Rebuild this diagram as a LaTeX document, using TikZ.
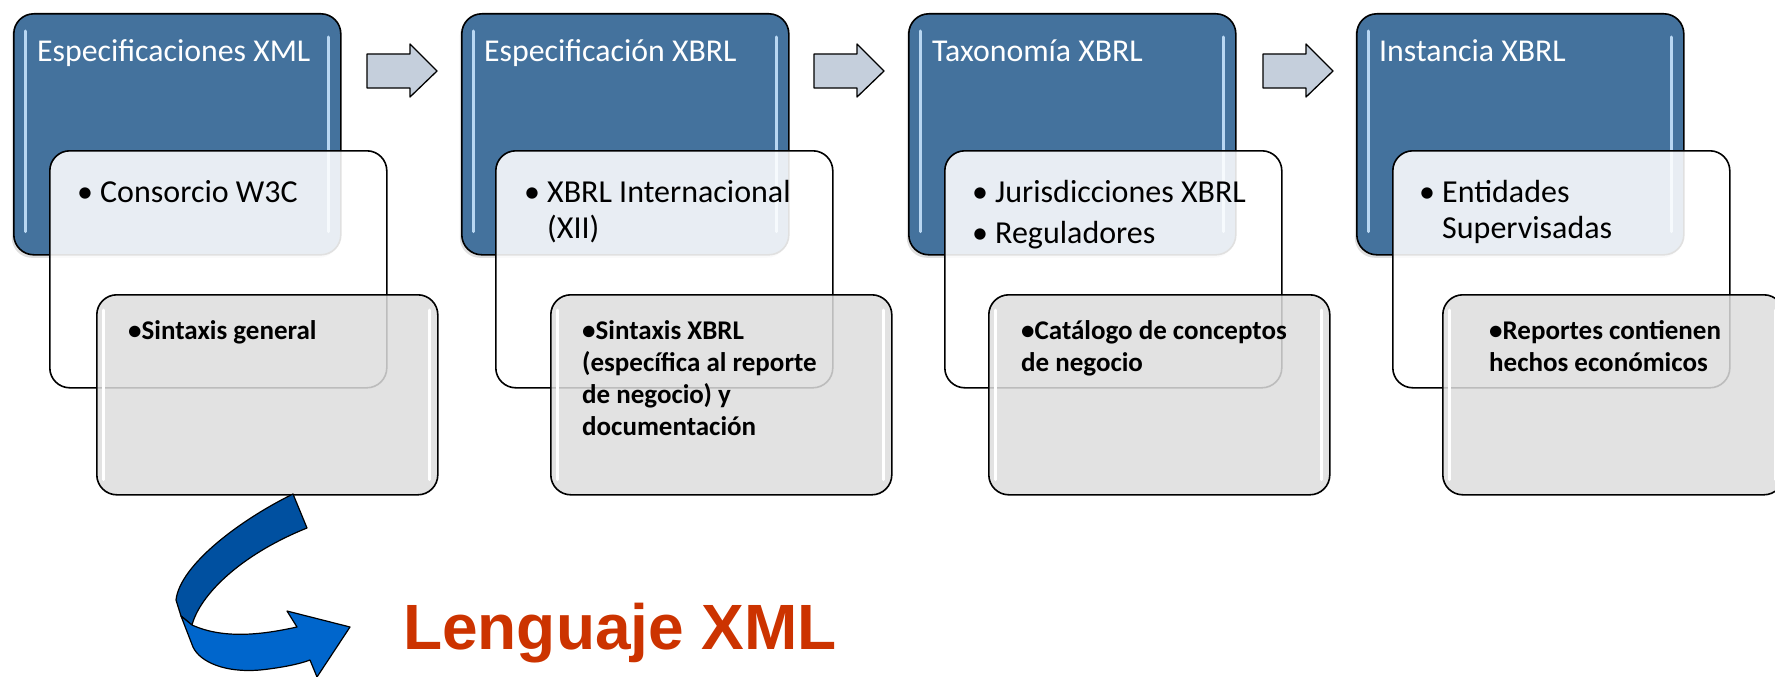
\documentclass[tikz,border=0pt]{standalone}
\usepackage{fontspec}
\setmainfont{Carlito}
\newfontfamily\arialfont{Liberation Sans}
\usetikzlibrary{shadows}
\definecolor{boxblue}{RGB}{68,114,157}
\definecolor{hiblue}{RGB}{185,215,242}
\definecolor{boxgray}{RGB}{221,221,221}
\definecolor{arrgray}{RGB}{197,207,220}
\definecolor{xmlred}{RGB}{204,51,0}
\definecolor{darkrib}{RGB}{0,80,160}
\definecolor{lightrib}{RGB}{0,102,204}
\tikzset{
 bluebox/.style={draw=black, line width=1.6pt, fill=boxblue, rounded corners=20pt, minimum width=327pt, minimum height=241pt, anchor=north west, inner sep=0, drop shadow={shadow xshift=-2pt, shadow yshift=-3pt, opacity=0.25}},
 whitebox/.style={draw=black, line width=1.6pt, fill=white, fill opacity=0.88, rounded corners=20pt, minimum width=337pt, minimum height=237pt, anchor=north west, inner sep=0},
 graybox/.style={draw=black, line width=1.6pt, fill=boxgray, fill opacity=0.85, rounded corners=20pt, minimum width=341pt, minimum height=200pt, anchor=north west, inner sep=0},
 hilite/.style={line width=3pt, line cap=round},
 titletext/.style={anchor=base west, inner sep=0, text=white, font=\fontsize{31.8}{37}\selectfont},
 bullettext/.style={anchor=base west, inner sep=0, font=\fontsize{32}{36}\selectfont, text width=320pt, align=flush left},
 boldtext/.style={anchor=base west, inner sep=0, font=\bfseries\fontsize{27}{32}\selectfont, text width=320pt, align=flush left},
 blockarrow/.style={draw=black, line width=1.3pt, fill=arrgray, line join=round},
 ribbon/.style={draw=black, line width=1.2pt, line join=round},
}
\newcommand{\bul}{\makebox[23pt][l]{•}}
\begin{document}
\begin{tikzpicture}[x=1pt,y=-1pt]
\useasboundingbox (0,0) rectangle (1775,677);
\foreach \i/\bx/\wx/\gx in {1/13/49/96, 2/461/495/550, 3/908/944/988, 4/1356/1392/1442}{
  \node[bluebox] (b\i) at (\bx,13) {};
  \draw[hilite, hiblue] ([shift={(12,18)}]b\i.north west) -- ([shift={(12,-24)}]b\i.south west);
  \draw[hilite, hiblue] ([shift={(-13,24)}]b\i.north east) -- ([shift={(-13,-24)}]b\i.south east);
  \node[whitebox] (w\i) at (\wx,150) {};
  \node[graybox] (g\i) at (\gx,294) {};
  \draw[hilite, white] ([shift={(7,16)}]g\i.north west) -- ([shift={(7,-16)}]g\i.south west);
  \draw[hilite, white] ([shift={(-9,16)}]g\i.north east) -- ([shift={(-9,-16)}]g\i.south east);
}
\foreach \ax in {367,814,1263}{
  \draw[blockarrow] (\ax,54) -- (\ax+43,54) -- (\ax+43,44) -- (\ax+70,71) -- (\ax+43,97) -- (\ax+43,88) -- (\ax,88) -- cycle;
}
% titles
\node[titletext] (t1) at (37,62) {Especificaciones XML};
\node[titletext] (t2) at (484,62) {Especificación XBRL};
\node[titletext] (t3) at (932,62) {Taxonomía XBRL};
\node[titletext] (t4) at (1379,62) {Instancia XBRL};
% bullets
\node[bullettext] (u1) at (77,202) {\bul Consorcio W3C};
\node[bullettext] (u2) at (524,202) {\bul XBRL Internacional\\\hspace*{23pt}(XII)};
\node[bullettext] (u3) at (972,202) {\bul Jurisdicciones XBRL\\[5pt]\bul Reguladores};
\node[bullettext] (u4) at (1419,202) {\bul Entidades\\\hspace*{23pt}Supervisadas};
% bold
\node[boldtext] (d1) at (128,339) {•Sintaxis general};
\node[boldtext] (d2) at (582,339) {•Sintaxis XBRL\\(específica al reporte\\de negocio) y\\documentación};
\node[boldtext] (d3) at (1021,339) {•Catálogo de conceptos\\de negocio};
\node[boldtext] (d4) at (1489,339) {•Reportes contienen\\hechos económicos};
% curved ribbon arrow
\draw[ribbon, fill=darkrib] (293,494) .. controls (240,520) and (180,565) .. (176,600) -- (181,616) -- (192,625) .. controls (200,595) and (240,555) .. (307,528) -- cycle;
\draw[ribbon, fill=lightrib] (181,616) -- (193,647) .. controls (200,662) and (225,673) .. (260,670) .. controls (280,668) and (300,664) .. (310,660) -- (317,677) -- (350,627) -- (287,611) -- (297,627) .. controls (265,634) and (225,640) .. (192,625) -- cycle;
\node[anchor=base west, inner sep=0, text=xmlred, font=\arialfont\bfseries\fontsize{64}{77}\selectfont] (lx) at (403,649) {Lenguaje XML};
\end{tikzpicture}
\end{document}
